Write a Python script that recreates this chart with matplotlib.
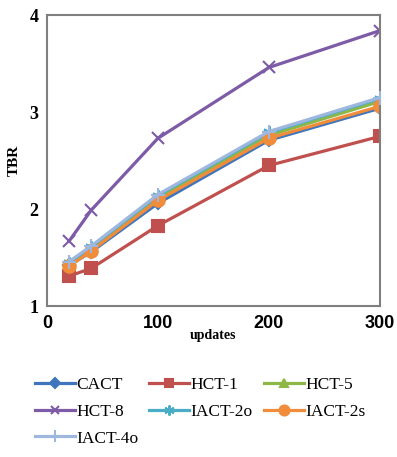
import matplotlib
matplotlib.use("Agg")
import matplotlib.pyplot as plt

updates = [20, 40, 100, 200, 300]
series_names = ["CACT", "HCT-1", "HCT-5", "HCT-8", "IACT-2o", "IACT-2s", "IACT-4o"]
cact = [1.42, 1.56, 2.06, 2.71, 3.04]
hct1 = [1.31, 1.39, 1.83, 2.45, 2.75]
hct5 = [1.43, 1.59, 2.12, 2.76, 3.11]
hct8 = [1.67, 1.99, 2.73, 3.46, 3.84]
iact2o = [1.45, 1.61, 2.14, 2.79, 3.14]
iact2s = [1.41, 1.57, 2.09, 2.73, 3.06]
iact4o = [1.46, 1.62, 2.15, 2.80, 3.15]
x_ticks = [0, 100, 200, 300]
y_ticks = [1, 2, 3, 4]

values = [cact, hct1, hct5, hct8, iact2o, iact2s, iact4o]
colors = ["#3E75BD", "#C0504D", "#8DB848", "#7D5BA6", "#4BACC6", "#F08C3A", "#9DB7DE"]
markers = ["D", "s", "^", "x", (6, 2, 0), "o", "+"]
msizes = [6, 8, 7, 8, 9, 9, 10]
order = [3, 1, 0, 5, 2, 4, 6]

fig = plt.figure(figsize=(3.97, 4.57), dpi=100)
ax = fig.add_axes([0.118, 0.330, 0.839, 0.637])

handles = {}
for i in order:
    (h,) = ax.plot(updates, values[i], color=colors[i], marker=markers[i],
                   markersize=msizes[i], linewidth=2.3, markeredgewidth=1.5,
                   label=series_names[i], zorder=2 + i * 0.1)
    handles[i] = h

ax.set_xlim(0, 300)
ax.set_ylim(1, 4)
ax.set_xticks(x_ticks)
ax.set_yticks(y_ticks)
ax.set_xticklabels([str(v) for v in x_ticks], fontfamily="Liberation Sans",
                   fontweight="bold", fontsize=13)
ax.set_yticklabels([str(v) for v in y_ticks], fontfamily="Liberation Serif",
                   fontweight="bold", fontsize=13)
ax.tick_params(length=0, pad=6)
for s in ax.spines.values():
    s.set_color("#7F7F7F")
    s.set_linewidth(1.5)
ax.set_xlabel("updates", fontfamily="Liberation Serif", fontweight="bold",
              fontsize=10, labelpad=-2)
ax.set_ylabel("TBR", fontfamily="Liberation Serif", fontweight="bold",
              fontsize=11, labelpad=6)

columns = [[0, 3, 6], [1, 4], [2, 5]]
col_x = [26 / 397, 140 / 397, 255 / 397]
for cx, col in zip(col_x, columns):
    fig.legend([handles[i] for i in col], [series_names[i] for i in col],
               ncol=1, loc="upper left", bbox_to_anchor=(cx, 0.195),
               frameon=False, prop={"family": "Liberation Serif", "size": 12.5},
               handlelength=2.3, handletextpad=0.1,
               labelspacing=0.62, borderpad=0, markerscale=0.8)

fig.savefig("out.png", dpi=100)
